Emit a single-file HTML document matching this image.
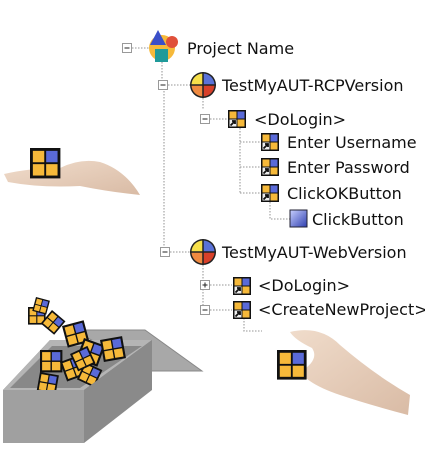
<!DOCTYPE html>
<html><head><style>
body{margin:0;background:#fff;width:425px;height:465px;overflow:hidden}
text{font-family:"DejaVu Sans","Liberation Sans",sans-serif;font-size:16px;fill:#111}
.d{stroke:#aaa;stroke-width:1.3;stroke-dasharray:1.5 1.5;fill:none}
</style></head><body>
<svg width="425" height="465" viewBox="0 0 425 465">
<defs>
<linearGradient id="sk" x1="0" y1="0" x2="1" y2="1"><stop offset="0" stop-color="#f0dccb"/><stop offset="1" stop-color="#d9bba5"/></linearGradient>
<linearGradient id="bl" x1="0" y1="0" x2="1" y2="1"><stop offset="0" stop-color="#c8d0ff"/><stop offset="1" stop-color="#2f3fb0"/></linearGradient>
<g id="ic"><rect x="0" y="0" width="18" height="18" fill="#111"/><rect x="1.5" y="1.5" width="7" height="7" fill="#f6b93a"/><rect x="9.5" y="1.5" width="7" height="7" fill="#5a6ad8"/><rect x="1.5" y="9.5" width="7" height="7" fill="#eee"/><rect x="9.5" y="9.5" width="7" height="7" fill="#f6b93a"/><path d="M2.5 15.5 L7 11 M4 11 H7 V14" stroke="#111" stroke-width="1.8" fill="none"/></g>
<g id="cb"><rect x="0" y="0" width="16" height="16" fill="#111"/><rect x="1.5" y="1.5" width="6" height="6" fill="#f6b93a"/><rect x="8.5" y="1.5" width="6" height="6" fill="#5a6ad8"/><rect x="1.5" y="8.5" width="6" height="6" fill="#f6b93a"/><rect x="8.5" y="8.5" width="6" height="6" fill="#f6b93a"/></g>
<g id="gl"><circle r="13" fill="#222"/><path d="M0 0 V-11.5 A11.5 11.5 0 0 0 -11.5 0Z" fill="#f7e04a"/><path d="M0 0 V-11.5 A11.5 11.5 0 0 1 11.5 0Z" fill="#5a72d8"/><path d="M0 0 H-11.5 A11.5 11.5 0 0 0 0 11.5Z" fill="#f08a40"/><path d="M0 0 H11.5 A11.5 11.5 0 0 1 0 11.5Z" fill="#d8402a"/><path d="M-13 0H13M0 -13V13" stroke="#222" stroke-width="1.5"/></g>
<g id="mn"><rect x="0.5" y="0.5" width="9" height="9" fill="#fff" stroke="#999"/><path d="M2.5 5H7.5" stroke="#222"/></g>
<g id="pl"><rect x="0.5" y="0.5" width="9" height="9" fill="#fff" stroke="#999"/><path d="M2.5 5H7.5M5 2.5V7.5" stroke="#222"/></g>
</defs>
<path class="d" d="M132 48H150M162 62V80M168 85H190M164 91V254M203 98V110M210 119H228M240 128V193M240 142H260M240 167H260M240 193H260M270 202V219H290M170 252H190M203 265V310M210 285H232M210 310H232M244 318V331H262"/>
<use href="#mn" x="122" y="43"/>
<use href="#mn" x="158" y="80"/>
<use href="#mn" x="200" y="114"/>
<use href="#mn" x="160" y="247"/>
<use href="#pl" x="200" y="280"/>
<use href="#mn" x="200" y="305"/>
<circle cx="162" cy="48" r="13" fill="#f6b93a"/><path d="M150 45 L158 30 L166 45Z" fill="#3a4fc8"/><circle cx="172" cy="42" r="6" fill="#e0503a"/><rect x="155" y="49" width="13" height="13" fill="#1f9a9a"/>
<text x="187" y="54">Project Name</text>
<use href="#gl" x="203" y="85"/><text x="222" y="91">TestMyAUT-RCPVersion</text>
<use href="#ic" x="228" y="110"/><text x="254" y="125">&lt;DoLogin&gt;</text>
<use href="#ic" x="261" y="133"/><text x="287" y="148">Enter Username</text>
<use href="#ic" x="261" y="158"/><text x="287" y="173">Enter Password</text>
<use href="#ic" x="261" y="184"/><text x="287" y="199">ClickOKButton</text>
<rect x="290" y="210" width="17" height="17" fill="url(#bl)" stroke="#223" stroke-width="1"/><text x="312" y="225">ClickButton</text>
<use href="#gl" x="203" y="252"/><text x="222" y="258">TestMyAUT-WebVersion</text>
<use href="#ic" x="233" y="277"/><text x="258" y="291">&lt;DoLogin&gt;</text>
<use href="#ic" x="233" y="301"/><text x="258" y="315">&lt;CreateNewProject&gt;</text>
<path d="M4 174 Q30 168 60 168 Q80 158 100 162 Q125 170 140 195 Q110 192 80 186 Q40 188 8 182Z" fill="url(#sk)"/>
<g transform="translate(30,148) scale(1.9)"><use href="#cb"/></g>
<path d="M290 332 Q320 325 340 345 Q375 375 410 395 L408 415 Q370 405 340 395 Q310 385 300 372 Q320 360 312 348 Q295 340 290 332Z" fill="url(#sk)"/>
<g transform="translate(277,350) scale(1.85)"><use href="#cb"/></g>
<path d="M72 330H145L202 371H152Z" fill="#a8a8a8" stroke="#888"/>
<path d="M3 390L50 340H152V390Z" fill="#7a7a7a"/>
<path d="M3 390L50 340H152L84 390Z" fill="#b5b5b5"/>
<path d="M10 388L52 346H142L80 388Z" fill="#888"/>
<g transform="translate(40,350) scale(1.4)"><use href="#cb"/></g>
<g transform="translate(62,326) rotate(-15) scale(1.4)"><use href="#cb"/></g>
<g transform="translate(84,338) rotate(20) scale(1.4)"><use href="#cb"/></g>
<g transform="translate(100,340) rotate(-10) scale(1.4)"><use href="#cb"/></g>
<g transform="translate(60,362) rotate(-20) scale(1.3)"><use href="#cb"/></g>
<g transform="translate(40,372) rotate(10) scale(1.2)"><use href="#cb"/></g>
<g transform="translate(85,362) rotate(25) scale(1.2)"><use href="#cb"/></g>
<g transform="translate(70,354) rotate(-25) scale(1.2)"><use href="#cb"/></g>
<g transform="translate(28,307) scale(1.1)"><use href="#cb"/></g>
<g transform="translate(52,310) rotate(40) scale(1.1)"><use href="#cb"/></g>
<g transform="translate(36,297) rotate(15) scale(0.9)"><use href="#cb"/></g>
<path d="M3 390H84V443H3Z" fill="#a0a0a0"/>
<path d="M84 390L152 340V390L84 443Z" fill="#8a8a8a"/>
</svg>
</body></html>
